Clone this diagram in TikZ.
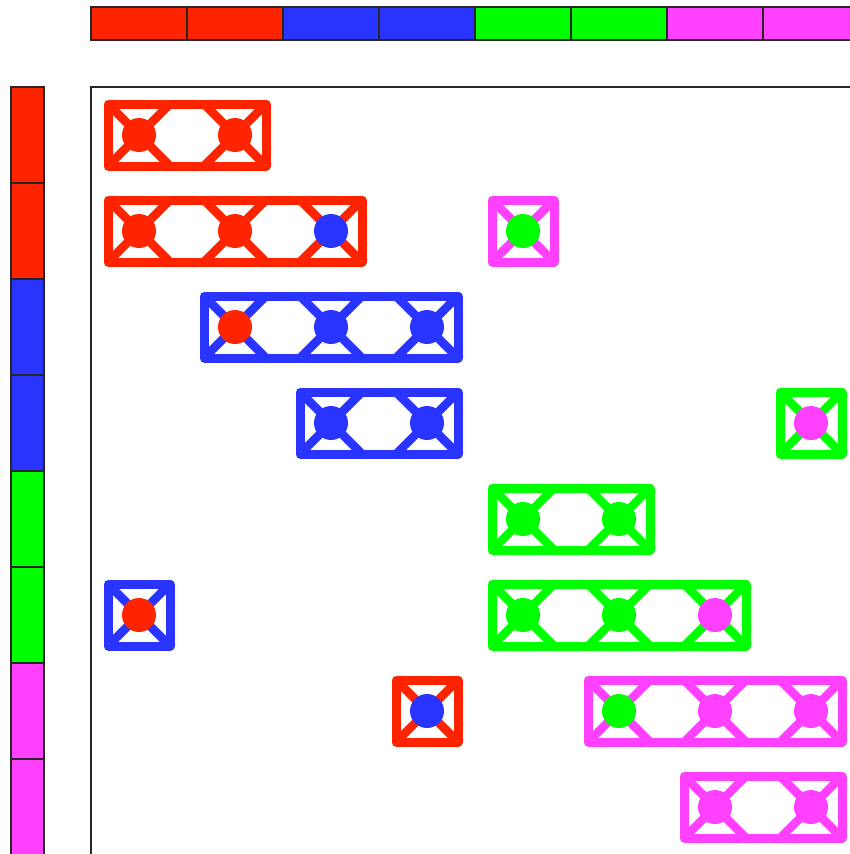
\documentclass[tikz,border=0pt]{standalone}
\usepackage{xcolor}
\usepackage{tikz}
\usetikzlibrary{positioning,calc}
\definecolor{MatRed}{RGB}{255,36,0}
\definecolor{MatBlue}{RGB}{42,52,255}
\definecolor{MatGreen}{RGB}{0,255,0}
\definecolor{MatMagenta}{RGB}{255,64,255}

\begin{document}
\begin{tikzpicture}[
      x=1pt, y=-1pt,
      band/.style={draw=black!85, line width=1.5pt},
      frame/.style={line width=9pt, line join=round},
      spoke/.style={line width=8.5pt},
      dot/.style={circle, minimum size=34pt, inner sep=0pt, draw=none}
    ]
    \useasboundingbox (0,0) rectangle (850,854);
    \clip (0,0) rectangle (850,854);

    % colour bands
    \foreach \j/\bcol in {0/MatRed,1/MatRed,2/MatBlue,3/MatBlue,4/MatGreen,5/MatGreen,6/MatMagenta,7/MatMagenta}
      \draw[band, fill=\bcol] (91+96*\j,7) rectangle ++(96,33);
    \foreach \i/\bcol in {0/MatRed,1/MatRed,2/MatBlue,3/MatBlue,4/MatGreen,5/MatGreen,6/MatMagenta,7/MatMagenta}
      \draw[band, fill=\bcol] (11,87+96*\i) rectangle ++(33,96);

    % matrix frame
    \draw[line width=1.5pt, draw=black!85] (91,87) rectangle (900,900);

    % blocks: row / first column / last column / colour
    \foreach \i/\a/\b/\bcol in {0/0/1/MatRed, 1/0/2/MatRed, 1/4/4/MatMagenta,
        2/1/3/MatBlue, 3/2/3/MatBlue, 3/7/7/MatGreen, 4/4/5/MatGreen,
        5/0/0/MatBlue, 5/4/6/MatGreen, 6/3/3/MatRed, 6/5/7/MatMagenta, 7/6/7/MatMagenta}
      \draw[frame, draw=\bcol] (91+96*\a+17, 87+96*\i+17) rectangle (91+96*\b+79, 87+96*\i+79);

    % cells: row / column / block colour / dot colour
    \foreach \i/\j/\bcol/\dcol in {0/0/MatRed/MatRed, 0/1/MatRed/MatRed,
        1/0/MatRed/MatRed, 1/1/MatRed/MatRed, 1/2/MatRed/MatBlue, 1/4/MatMagenta/MatGreen,
        2/1/MatBlue/MatRed, 2/2/MatBlue/MatBlue, 2/3/MatBlue/MatBlue,
        3/2/MatBlue/MatBlue, 3/3/MatBlue/MatBlue, 3/7/MatGreen/MatMagenta,
        4/4/MatGreen/MatGreen, 4/5/MatGreen/MatGreen,
        5/0/MatBlue/MatRed, 5/4/MatGreen/MatGreen, 5/5/MatGreen/MatGreen, 5/6/MatGreen/MatMagenta,
        6/3/MatRed/MatBlue, 6/5/MatMagenta/MatGreen, 6/6/MatMagenta/MatMagenta, 6/7/MatMagenta/MatMagenta,
        7/6/MatMagenta/MatMagenta, 7/7/MatMagenta/MatMagenta} {
      \coordinate (c-\i-\j) at (139+96*\j, 135+96*\i);
      \draw[spoke, draw=\bcol] ([shift={(-31,-31)}]c-\i-\j) -- ([shift={(31,31)}]c-\i-\j);
      \draw[spoke, draw=\bcol] ([shift={(-31,31)}]c-\i-\j) -- ([shift={(31,-31)}]c-\i-\j);
      \node[dot, fill=\dcol] (n-\i-\j) at (c-\i-\j) {};
    }
  \end{tikzpicture}
\end{document}
